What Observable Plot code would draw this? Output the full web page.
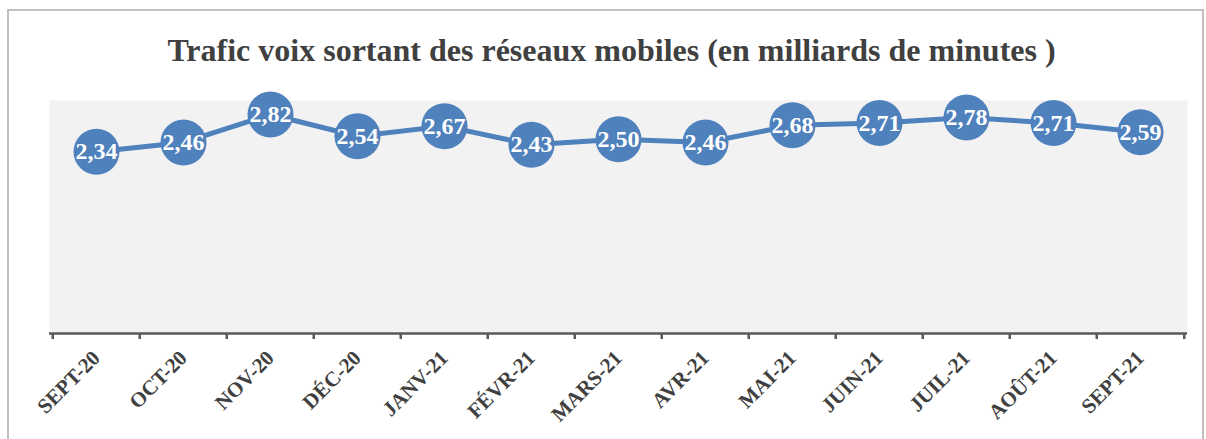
<!DOCTYPE html>
<html><head><meta charset="utf-8">
<script src="https://cdn.jsdelivr.net/npm/d3@7"></script>
<script src="https://cdn.jsdelivr.net/npm/@observablehq/plot@0.6"></script>
<style>
body{margin:0;background:#fff;}
#wrap{position:relative;width:1206px;height:439px;overflow:hidden;}
#border{position:absolute;left:7px;top:9px;width:1197px;height:440px;border:2px solid #c0c0c0;box-sizing:border-box;}
#chart{position:absolute;left:0;top:0;}
</style></head>
<body><div id="wrap"><div id="border"></div><div id="chart"></div></div>
<script>
const title = "Trafic voix sortant des réseaux mobiles (en milliards de minutes )";
const categories = ["SEPT-20","OCT-20","NOV-20","DÉC-20","JANV-21","FÉVR-21","MARS-21","AVR-21","MAI-21","JUIN-21","JUIL-21","AOÛT-21","SEPT-21"];
const values = [2.34,2.46,2.82,2.54,2.67,2.43,2.50,2.46,2.68,2.71,2.78,2.71,2.59];
const data = categories.map((c,i)=>({cat:c, v:values[i]}));
const W=1206,H=439,ML=49,MR=19,MT=100,MB=106;
const step=(W-ML-MR)/categories.length;
const fmt = d3.format(".2f");
const chart = Plot.plot({
  width:W,height:H,marginLeft:ML,marginRight:MR,marginTop:MT,marginBottom:MB,
  style:{fontFamily:"'Liberation Serif','Times New Roman',serif",fontSize:"21px",fontWeight:"bold",color:"#404040",background:"transparent"},
  x:{type:"point",domain:categories,padding:0.5,tickRotate:-45,tickSize:0,tickPadding:21,label:null},
  y:{domain:[0,3],axis:null},
  marks:[
    Plot.frame({fill:"#f2f2f2",stroke:null}),
    Plot.ruleY([0],{stroke:"#595959",strokeWidth:2.5}),
    Plot.ruleX(categories,{x:d=>d,dx:-step/2,y1:0,y2:0,insetBottom:-6,stroke:"#595959",strokeWidth:2.5}),
    Plot.ruleX([categories[categories.length-1]],{x:d=>d,dx:step/2,y1:0,y2:0,insetBottom:-6,stroke:"#595959",strokeWidth:2.5}),
    Plot.line(data,{x:"cat",y:"v",stroke:"#4f81bd",strokeWidth:5}),
    Plot.dot(data,{x:"cat",y:"v",r:23,fill:"#4f81bd",stroke:null}),
    Plot.text(data,{x:"cat",y:"v",text:d=>fmt(d.v).replace(".",","),fill:"white",fontSize:24,fontWeight:"bold"}),
    Plot.text([title],{frameAnchor:"top",lineAnchor:"middle",dy:-50,dx:-7,text:d=>d,fontSize:32,fontWeight:"bold",fill:"#404040"})
  ]
});
document.getElementById("chart").appendChild(chart);
</script></body></html>
